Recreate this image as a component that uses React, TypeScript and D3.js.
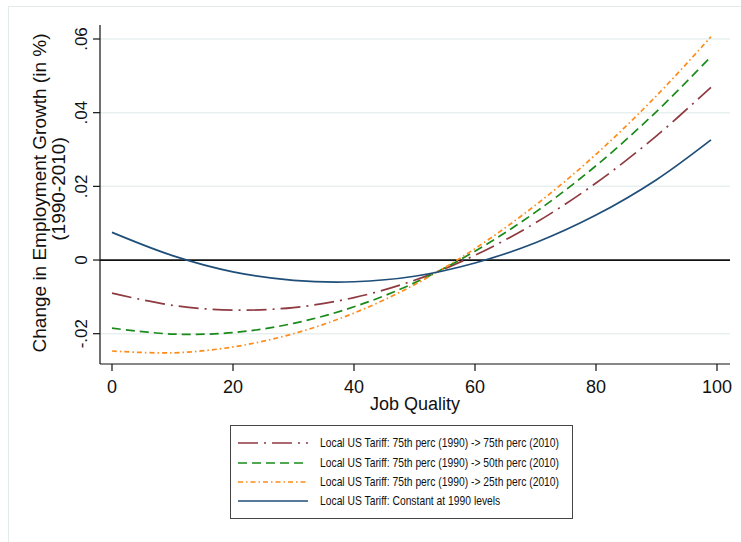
import React from "react";
import * as d3 from "d3";

const xs = [0, 10, 20, 30, 40, 50, 60, 70, 80, 90, 99];
const redVals = [-0.009, -0.0123, -0.0136, -0.0129, -0.0102, -0.0055, 0.0013, 0.0101, 0.0209, 0.0337, 0.0469];
const greenVals = [-0.0185, -0.0201, -0.0197, -0.0172, -0.0127, -0.0062, 0.0024, 0.013, 0.0256, 0.0403, 0.0552];
const orangeVals = [-0.0247, -0.0252, -0.0236, -0.02, -0.0144, -0.0067, 0.0031, 0.0149, 0.0287, 0.0446, 0.0606];
const blueVals = [0.0075, 0.0012, -0.0032, -0.0055, -0.0059, -0.0044, -0.0008, 0.0047, 0.0122, 0.0218, 0.0326];

const xTicks = [0, 20, 40, 60, 80, 100];
const yTicks = [-0.02, 0, 0.02, 0.04, 0.06];
const yTickLabels = ["-.02", "0", ".02", ".04", ".06"];
const gridValues = [-0.02, 0.02, 0.04, 0.06];

const seriesNames = [
  "Local US Tariff: 75th perc (1990) -> 75th perc (2010)",
  "Local US Tariff: 75th perc (1990) -> 50th perc (2010)",
  "Local US Tariff: 75th perc (1990) -> 25th perc (2010)",
  "Local US Tariff: Constant at 1990 levels",
];
const seriesValues = [redVals, greenVals, orangeVals, blueVals];
const seriesColors = ["#8f3a41", "#1a8a1a", "#ff8c1a", "#1f4e79"];
const seriesDash = ["20 6 2 6", "9 5", "5 3 1.5 3", "none"];

const FONT = "'Liberation Sans', Arial, Helvetica, sans-serif";

export default function App() {
  const x = d3.scaleLinear().domain([0, 100]).range([112, 717]);
  const y = d3.scaleLinear().domain([-0.02, 0.06]).range([333.7, 39]);
  const plotLeft = 100;
  const plotRight = 730;
  const plotTop = 25;
  const plotBottom = 364;

  const line = d3
    .line<number>()
    .x((_, i) => x(xs[i]))
    .y((d) => y(d))
    .curve(d3.curveCatmullRom.alpha(0.5));

  const legendX = 230;
  const legendY = 425;
  const legendW = 342;
  const legendH = 93;
  const rowYs = [443, 463, 482, 501];

  return (
    <svg
      width={741}
      height={542}
      style={{ position: "absolute", left: 0, top: 0, background: "#fff" }}
      fontFamily={FONT}
    >
      <rect x={0} y={0} width={741} height={542} fill="#fff" />
      <rect x={8.5} y={6.5} width={1000} height={1000} fill="none" stroke="#e3eaea" strokeWidth={1} />

      {gridValues.map((v) => (
        <line key={v} x1={plotLeft} x2={plotRight} y1={y(v)} y2={y(v)} stroke="#e8efef" strokeWidth={1.5} />
      ))}

      <line x1={plotLeft} x2={plotRight} y1={y(0)} y2={y(0)} stroke="#111" strokeWidth={1.8} />

      {seriesValues.map((vals, i) => (
        <path
          key={i}
          d={line(vals) || ""}
          fill="none"
          stroke={seriesColors[i]}
          strokeWidth={1.7}
          strokeDasharray={seriesDash[i]}
        />
      ))}

      {/* axes */}
      <line x1={plotLeft} x2={plotLeft} y1={plotTop} y2={plotBottom} stroke="#111" strokeWidth={1.2} />
      <line x1={plotLeft} x2={plotRight} y1={plotBottom} y2={plotBottom} stroke="#111" strokeWidth={1.2} />

      {yTicks.map((v, i) => (
        <g key={v}>
          <line x1={93} x2={plotLeft} y1={y(v)} y2={y(v)} stroke="#111" strokeWidth={1.2} />
          <text
            transform={`translate(87,${y(v)}) rotate(-90)`}
            textAnchor="middle"
            fontSize={17}
            fill="#111"
          >
            {yTickLabels[i]}
          </text>
        </g>
      ))}

      {xTicks.map((v) => (
        <g key={v}>
          <line x1={x(v)} x2={x(v)} y1={plotBottom} y2={plotBottom + 7} stroke="#111" strokeWidth={1.2} />
          <text x={x(v)} y={393} textAnchor="middle" fontSize={18} fill="#111">
            {v}
          </text>
        </g>
      ))}

      <text x={415} y={410} textAnchor="middle" fontSize={18} fill="#111">
        Job Quality
      </text>

      <text transform="translate(46,193) rotate(-90)" textAnchor="middle" fontSize={19} fill="#111">
        Change in Employment Growth (in %)
      </text>
      <text transform="translate(65,189) rotate(-90)" textAnchor="middle" fontSize={19} fill="#111">
        (1990-2010)
      </text>

      {/* legend */}
      <rect x={legendX + 0.5} y={legendY + 0.5} width={legendW} height={legendH} fill="#fff" stroke="#444" strokeWidth={1} />
      {seriesNames.map((name, i) => (
        <g key={name}>
          <line
            x1={238}
            x2={308}
            y1={rowYs[i]}
            y2={rowYs[i]}
            stroke={seriesColors[i]}
            strokeWidth={1.7}
            strokeDasharray={seriesDash[i]}
          />
          <text
            transform={`translate(320,${rowYs[i]}) scale(0.86,1)`}
            dominantBaseline="central"
            fontSize={12}
            fill="#111"
          >
            {name}
          </text>
        </g>
      ))}
    </svg>
  );
}
